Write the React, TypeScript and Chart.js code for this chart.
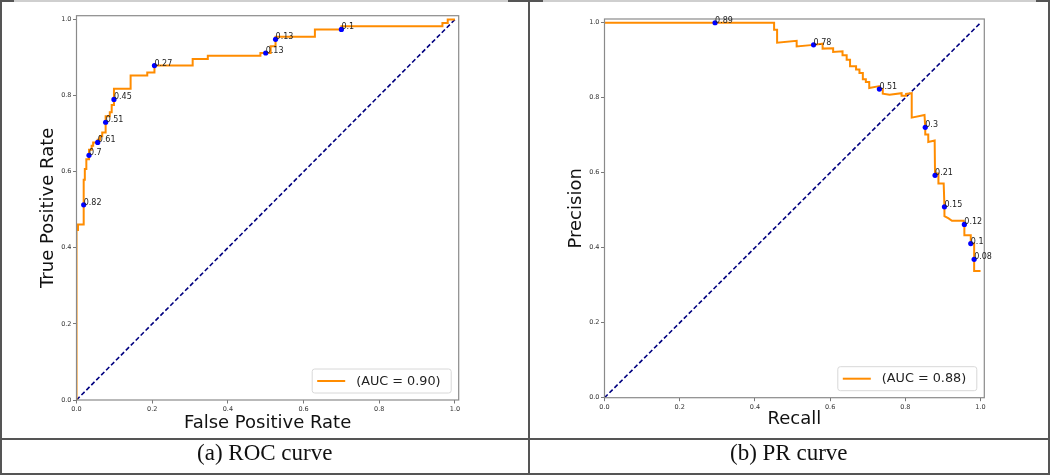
import React, { useEffect, useRef } from "react";
import { Chart, registerables } from "chart.js";

Chart.register(...registerables);

// ---------- data ----------
const axisTicks = [0, 0.2, 0.4, 0.6, 0.8, 1.0];
const axisMax = 1.01;
const diagX = [0, 1];
const diagY = [0, 1];

// ROC curve (a)
const rocFpr = [0, 0, 0.004, 0.004, 0.019, 0.019, 0.022, 0.022, 0.026, 0.026, 0.033, 0.033, 0.040, 0.040, 0.044, 0.044, 0.056, 0.056, 0.062, 0.062, 0.068, 0.068, 0.077, 0.077, 0.088, 0.088, 0.093, 0.093, 0.099, 0.099, 0.143, 0.143, 0.187, 0.187, 0.206, 0.206, 0.307, 0.307, 0.347, 0.347, 0.486, 0.486, 0.513, 0.513, 0.526, 0.526, 0.630, 0.630, 0.700, 0.700, 0.967, 0.967, 0.981, 0.981, 1.0];
const rocTpr = [0, 0.447, 0.447, 0.461, 0.461, 0.579, 0.579, 0.607, 0.607, 0.633, 0.633, 0.658, 0.658, 0.668, 0.668, 0.677, 0.677, 0.684, 0.684, 0.693, 0.693, 0.703, 0.703, 0.746, 0.746, 0.756, 0.756, 0.775, 0.775, 0.818, 0.818, 0.853, 0.853, 0.861, 0.861, 0.879, 0.879, 0.896, 0.896, 0.905, 0.905, 0.912, 0.912, 0.930, 0.930, 0.955, 0.955, 0.974, 0.974, 0.982, 0.982, 0.991, 0.991, 1.0, 1.0];
const rocThrFpr = [0.019, 0.033, 0.056, 0.077, 0.099, 0.206, 0.500, 0.526, 0.700];
const rocThrTpr = [0.513, 0.643, 0.677, 0.730, 0.790, 0.879, 0.912, 0.948, 0.974];
const rocThrLabels = ["0.82", "0.7", "0.61", "0.51", "0.45", "0.27", "0.13", "0.13", "0.1"];
const rocLegend = "(AUC = 0.90)";

// PR curve (b)
const prRecall = [0, 0.451, 0.451, 0.459, 0.459, 0.511, 0.511, 0.556, 0.580, 0.580, 0.608, 0.608, 0.633, 0.633, 0.644, 0.644, 0.653, 0.653, 0.669, 0.669, 0.678, 0.678, 0.687, 0.687, 0.695, 0.695, 0.704, 0.704, 0.731, 0.731, 0.740, 0.740, 0.758, 0.790, 0.790, 0.802, 0.802, 0.817, 0.817, 0.851, 0.853, 0.853, 0.861, 0.861, 0.878, 0.879, 0.879, 0.888, 0.888, 0.902, 0.904, 0.904, 0.915, 0.924, 0.955, 0.957, 0.957, 0.974, 0.974, 0.983, 0.983, 1.0];
const prPrecision = [1.0, 1.0, 0.981, 0.981, 0.947, 0.952, 0.937, 0.941, 0.944, 0.931, 0.932, 0.922, 0.924, 0.913, 0.913, 0.901, 0.901, 0.884, 0.884, 0.875, 0.875, 0.866, 0.866, 0.849, 0.849, 0.842, 0.842, 0.826, 0.831, 0.823, 0.823, 0.811, 0.808, 0.812, 0.805, 0.805, 0.810, 0.812, 0.747, 0.754, 0.721, 0.702, 0.702, 0.682, 0.686, 0.593, 0.598, 0.598, 0.571, 0.571, 0.509, 0.484, 0.478, 0.472, 0.472, 0.462, 0.433, 0.433, 0.411, 0.411, 0.338, 0.338];
const prThrRecall = [0.294, 0.556, 0.731, 0.853, 0.879, 0.904, 0.957, 0.974, 0.983];
const prThrPrecision = [1.0, 0.941, 0.823, 0.721, 0.593, 0.509, 0.462, 0.411, 0.369];
const prThrLabels = ["0.89", "0.78", "0.51", "0.3", "0.21", "0.15", "0.12", "0.1", "0.08"];
const prLegend = "(AUC = 0.88)";

// ---------- styling ----------
const FONT = "DejaVu Sans";
const ORANGE = "#ff8c00";
const NAVY = "#000080";

type Spec = {
  left: number;
  width: number;
  height: number;
  curveX: number[];
  curveY: number[];
  thrX: number[];
  thrY: number[];
  thrLabels: string[];
  legend: string;
  xTitle: string;
  yTitle: string;
  pad: { top: number; right: number; bottom: number; left: number };
  yAxisW: number;
  xAxisH: number;
  yTitlePad: number;
};

const pts = (xs: number[], ys: number[]) => xs.map((x, i) => ({ x, y: ys[i] }));

const framePlugin = {
  id: "frame",
  afterDatasetsDraw(chart: any) {
    const { ctx, chartArea: a } = chart;
    ctx.save();
    ctx.strokeStyle = "#8a8a8a";
    ctx.lineWidth = 1.2;
    ctx.strokeRect(a.left, a.top, a.right - a.left, a.bottom - a.top);
    ctx.restore();
  },
};

const labelPlugin = {
  id: "thrLabels",
  afterDatasetsDraw(chart: any) {
    const { ctx } = chart;
    const ds: any = chart.data.datasets[0];
    const meta = chart.getDatasetMeta(0);
    ctx.save();
    ctx.font = `8px "${FONT}"`;
    ctx.fillStyle = "#222";
    ctx.textAlign = "left";
    ctx.textBaseline = "alphabetic";
    meta.data.forEach((el: any, i: number) => {
      ctx.fillText(ds.pointLabels[i], el.x, el.y);
    });
    ctx.restore();
  },
};

const legendPlugin = {
  id: "aucLegend",
  afterDraw(chart: any) {
    const { ctx, chartArea: a } = chart;
    const text = chart.data.datasets[1].label;
    const w = 139;
    const h = 24;
    const x = a.right - 7.5 - w;
    const y = a.bottom - 7 - h;
    ctx.save();
    ctx.beginPath();
    ctx.roundRect(x, y, w, h, 2.5);
    ctx.fillStyle = "rgba(255,255,255,0.85)";
    ctx.fill();
    ctx.strokeStyle = "#d8d8d8";
    ctx.lineWidth = 1;
    ctx.stroke();
    ctx.beginPath();
    ctx.moveTo(x + 5, y + h / 2);
    ctx.lineTo(x + 33, y + h / 2);
    ctx.strokeStyle = ORANGE;
    ctx.lineWidth = 2;
    ctx.stroke();
    ctx.font = `12.8px "${FONT}"`;
    ctx.fillStyle = "#222";
    ctx.textAlign = "left";
    ctx.textBaseline = "middle";
    ctx.fillText(text, x + 44, y + h / 2 + 0.3);
    ctx.restore();
  },
};

function axis(spec: Spec, isX: boolean) {
  return {
    type: "linear" as const,
    min: 0,
    max: axisMax,
    afterBuildTicks: (s: any) => {
      s.ticks = axisTicks.map((v) => ({ value: v }));
    },
    afterFit: (s: any) => {
      if (isX) s.height = spec.xAxisH;
      else s.width = spec.yAxisW;
    },
    ticks: {
      font: { size: 6.5, family: FONT },
      color: "#333",
      padding: isX ? 2 : 1.5,
      maxRotation: 0,
      autoSkip: false,
      callback: (v: any) => Number(v).toFixed(1),
    },
    grid: {
      drawOnChartArea: false,
      drawTicks: true,
      tickLength: 3.5,
      color: "#555",
      tickWidth: 0.8,
    },
    border: { display: false },
    title: {
      display: true,
      text: isX ? spec.xTitle : spec.yTitle,
      font: { size: 18, family: FONT },
      color: "#111",
      padding: isX ? { top: 0, bottom: 0 } : { top: spec.yTitlePad, bottom: 0 },
    },
  };
}

function buildConfig(spec: Spec): any {
  return {
    type: "scatter",
    data: {
      datasets: [
        {
          label: "thresholds",
          data: pts(spec.thrX, spec.thrY),
          pointLabels: spec.thrLabels,
          showLine: false,
          pointRadius: 2.6,
          pointBackgroundColor: "#0000ff",
          pointBorderWidth: 0,
          order: 0,
        },
        {
          label: spec.legend,
          data: pts(spec.curveX, spec.curveY),
          showLine: true,
          borderColor: ORANGE,
          borderWidth: 2,
          pointRadius: 0,
          tension: 0,
          fill: false,
          order: 1,
        },
        {
          label: "chance",
          data: pts(diagX, diagY),
          showLine: true,
          borderColor: NAVY,
          borderWidth: 1.6,
          borderDash: [4.5, 2.5],
          pointRadius: 0,
          fill: false,
          order: 2,
        },
      ],
    },
    options: {
      responsive: false,
      animation: false,
      events: [],
      layout: { padding: spec.pad },
      plugins: {
        legend: { display: false },
        tooltip: { enabled: false },
        title: { display: false },
      },
      scales: {
        x: axis(spec, true),
        y: axis(spec, false),
      },
    },
    plugins: [framePlugin, labelPlugin, legendPlugin],
  };
}

const rocSpec: Spec = {
  left: 0,
  width: 528,
  height: 437,
  curveX: rocFpr,
  curveY: rocTpr,
  thrX: rocThrFpr,
  thrY: rocThrTpr,
  thrLabels: rocThrLabels,
  legend: rocLegend,
  xTitle: "False Positive Rate",
  yTitle: "True Positive Rate",
  pad: { top: 15.7, right: 69.3, bottom: 3.1, left: 0 },
  yAxisW: 76.5,
  xAxisH: 33.9,
  yTitlePad: 37.7,
};

const prSpec: Spec = {
  left: 529,
  width: 521,
  height: 437,
  curveX: prRecall,
  curveY: prPrecision,
  thrX: prThrRecall,
  thrY: prThrPrecision,
  thrLabels: prThrLabels,
  legend: prLegend,
  xTitle: "Recall",
  yTitle: "Precision",
  pad: { top: 19, right: 65.7, bottom: 6.4, left: 0 },
  yAxisW: 75.5,
  xAxisH: 32.9,
  yTitlePad: 36.2,
};

function ChartPanel({ spec }: { spec: Spec }) {
  const ref = useRef<HTMLCanvasElement>(null);
  useEffect(() => {
    const chart = new Chart(ref.current as HTMLCanvasElement, buildConfig(spec));
    return () => chart.destroy();
  }, [spec]);
  return (
    <canvas
      ref={ref}
      width={spec.width}
      height={spec.height}
      style={{ position: "absolute", left: spec.left, top: 0, width: spec.width, height: spec.height }}
    />
  );
}

const line = (l: number, t: number, w: number, h: number, c = "#555") => (
  <div style={{ position: "absolute", left: l, top: t, width: w, height: h, background: c, zIndex: 2 }} />
);

const captionStyle = (left: number, width: number): React.CSSProperties => ({
  position: "absolute",
  left,
  top: 436,
  width,
  height: 34,
  lineHeight: "34px",
  textAlign: "center",
  fontFamily: '"Liberation Serif", "Times New Roman", serif',
  fontSize: 23,
  color: "#111",
  zIndex: 3,
});

export default function App() {
  return (
    <div style={{ position: "absolute", left: 0, top: 0, width: 1050, height: 475, background: "#fff", overflow: "hidden" }}>
      <ChartPanel spec={rocSpec} />
      <ChartPanel spec={prSpec} />
      {line(0, 0, 1050, 1.5, "#cfcfcf")}
      {line(0, 0, 14, 1.5)}
      {line(508, 0, 35, 1.5)}
      {line(1036, 0, 14, 1.5)}
      {line(0, 0, 2, 474)}
      {line(1048, 0, 2, 474)}
      {line(527.5, 0, 2, 474)}
      {line(0, 437.5, 1050, 2)}
      {line(0, 472.5, 1050, 2)}
      <div style={captionStyle(2, 525.5)}>(a) ROC curve</div>
      <div style={captionStyle(529.5, 518.5)}>(b) PR curve</div>
    </div>
  );
}
